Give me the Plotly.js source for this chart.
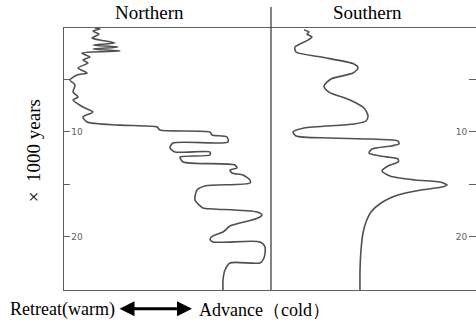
<!DOCTYPE html>
<html><head><meta charset="utf-8">
<script src="https://cdn.plot.ly/plotly-3.0.1.min.js"></script>
<style>html,body{margin:0;padding:0;background:#fff}#chart{width:476px;height:326px}</style>
</head><body><div id="chart"></div>
<script>
// Northern hemisphere glacier extent (relative units) vs age (x1000 years)
const northExtent = [31,36,29,35,28,36,51,29,54,29,56,18,26,19,24,14,23,13,6,11,9,14,9,19,29,19,23,56,93,96,146,148,163,164,109,106,111,146,146,116,119,171,173,166,168,179,186,186,141,133,131,139,149,193,198,194,176,166,159,149,146,149,196,201,200,196,166,161,159,159];
const northAge = [0.12,0.22,0.41,0.70,1.08,1.27,1.55,1.74,1.93,2.12,2.31,2.50,2.89,3.17,3.46,3.93,4.41,4.60,5.08,5.55,6.22,6.70,6.98,7.65,8.12,8.60,9.08,9.37,9.56,9.84,10.03,10.31,10.50,10.98,11.08,11.55,11.93,11.93,12.22,12.41,12.88,13.17,13.46,13.65,13.93,14.12,14.60,14.89,15.17,15.55,16.50,17.27,17.36,17.65,17.93,18.22,18.70,18.98,19.55,19.93,20.22,20.50,20.50,20.98,22.03,22.50,22.50,23.17,24.12,25.08];
// Southern hemisphere glacier extent
const southExtent = [33,38,36,41,37,24,25,50,83,87,82,60,53,58,79,93,97,95,83,33,22,25,59,99,127,128,120,101,98,109,127,127,117,111,119,144,169,176,171,150,127,110,100,95,92,90,89,89];
const southAge = [0.31,0.50,0.70,0.98,1.27,1.93,2.41,2.89,3.55,3.93,4.41,4.98,5.65,6.22,6.98,7.74,8.50,8.98,9.27,9.65,10.03,10.41,10.60,10.70,10.89,11.17,11.36,11.65,12.03,12.31,12.60,12.88,13.27,13.74,14.22,14.60,14.79,15.08,15.27,15.55,16.03,16.79,17.65,18.60,19.65,21.27,23.17,25.08];
const panelTitles = ["Northern", "Southern"];
const tickVals = [5, 10, 15, 20];
const tickText = ["", "10", "", "20"];
const yTitle = "×  1000 years";
const leftLabel = "Retreat(warm)";
const rightLabel = "Advance（cold）";

const lineStyle = {color: "#505050", width: 1.6, shape: "spline", smoothing: 0.7};
const serif = "Liberation Serif, Times New Roman, serif";
const yRange = [25.08, 0.12];
const split = 207 / 412;

const data = [
  {x: northExtent, y: northAge, type: "scatter", mode: "lines", line: lineStyle, xaxis: "x", yaxis: "y", hoverinfo: "skip"},
  {x: southExtent, y: southAge, type: "scatter", mode: "lines", line: lineStyle, xaxis: "x2", yaxis: "y2", hoverinfo: "skip"}
];

const layout = {
  width: 476, height: 326,
  margin: {l: 64, r: 0, t: 28, b: 36},
  paper_bgcolor: "#fff", plot_bgcolor: "#fff",
  showlegend: false,
  xaxis: {domain: [0, split], range: [0, 207], showgrid: false, zeroline: false, showticklabels: false, ticks: "",
          showline: true, mirror: true, linecolor: "#606060", linewidth: 1, anchor: "y"},
  xaxis2: {domain: [split, 1], range: [0, 205], showgrid: false, zeroline: false, showticklabels: false, ticks: "",
           showline: true, mirror: true, linecolor: "#606060", linewidth: 1, anchor: "y2"},
  yaxis: {range: yRange, showgrid: false, zeroline: false, showline: true, linecolor: "#606060", linewidth: 1.2,
          ticks: "inside", ticklen: 6, tickcolor: "#606060", tickvals: tickVals, ticktext: tickText,
          ticklabelposition: "inside", tickfont: {family: "DejaVu Sans, sans-serif", size: 9, color: "#606060"}, anchor: "x"},
  yaxis2: {range: yRange, showgrid: false, zeroline: false, showline: false, anchor: "free", position: 1, side: "left",
           ticks: "outside", ticklen: 7, tickcolor: "#606060", tickvals: tickVals, ticktext: tickText,
           tickfont: {family: "DejaVu Sans, sans-serif", size: 9, color: "#606060"}},
  shapes: [
    {type: "line", xref: "paper", yref: "paper", x0: split, x1: split, y0: 0, y1: 1.08, line: {color: "#404040", width: 1.3}}
  ],
  annotations: [
    {text: panelTitles[0], xref: "paper", yref: "paper", x: (149 - 64) / 412, y: 1.061, showarrow: false,
     xanchor: "center", yanchor: "middle", font: {family: serif, size: 19, color: "#000"}},
    {text: panelTitles[1], xref: "paper", yref: "paper", x: (367 - 64) / 412, y: 1.061, showarrow: false,
     xanchor: "center", yanchor: "middle", font: {family: serif, size: 19, color: "#000"}},
    {text: yTitle, xref: "paper", yref: "paper", x: (33 - 64) / 412, y: 0.53, showarrow: false, textangle: -90,
     xanchor: "center", yanchor: "middle", font: {family: serif, size: 19, color: "#000"}},
    {text: leftLabel, xref: "paper", yref: "paper", x: (8 - 64) / 412, y: -0.076, showarrow: false,
     xanchor: "left", yanchor: "middle", font: {family: serif, size: 18, color: "#000"}},
    {text: rightLabel, xref: "paper", yref: "paper", x: (197 - 64) / 412, y: -0.076, showarrow: false,
     xanchor: "left", yanchor: "middle", font: {family: serif, size: 18, color: "#000"}},
    {text: "", xref: "paper", yref: "paper", x: (192 - 64) / 412, y: -0.072, ax: -74, ay: 0,
     showarrow: true, arrowside: "end+start", arrowhead: 2, arrowsize: 1, arrowwidth: 3, arrowcolor: "#000"}
  ]
};

Plotly.newPlot("chart", data, layout, {staticPlot: true, displayModeBar: false});
</script></body></html>
